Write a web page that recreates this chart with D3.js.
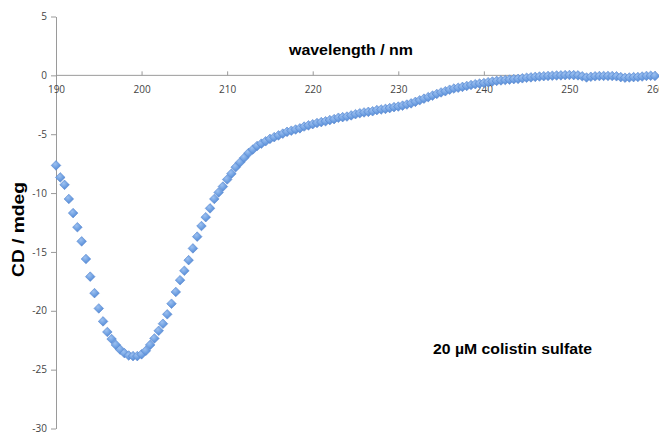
<!DOCTYPE html>
<html>
<head>
<meta charset="utf-8">
<script src="https://cdn.jsdelivr.net/npm/d3@7"></script>
<style>
  html, body { margin: 0; padding: 0; background: #fff; }
  svg { display: block; }
</style>
</head>
<body>
<svg id="chart" width="659" height="436"></svg>
<script>
// ---- data ----
const wavelengths = [
  190,190.5,191,191.5,192,192.5,193,193.5,194,194.5,195,195.5,196,196.5,197,197.5,198,198.5,199,199.5,
  200,200.5,201,201.5,202,202.5,203,203.5,204,204.5,205,205.5,206,206.5,207,207.5,208,208.5,209,209.5,
  210,210.5,211,211.5,212,212.5,213,213.5,214,214.5,215,215.5,216,216.5,217,217.5,218,218.5,219,219.5,
  220,220.5,221,221.5,222,222.5,223,223.5,224,224.5,225,225.5,226,226.5,227,227.5,228,228.5,229,229.5,
  230,230.5,231,231.5,232,232.5,233,233.5,234,234.5,235,235.5,236,236.5,237,237.5,238,238.5,239,239.5,
  240,240.5,241,241.5,242,242.5,243,243.5,244,244.5,245,245.5,246,246.5,247,247.5,248,248.5,249,249.5,
  250,250.5,251,251.5,252,252.5,253,253.5,254,254.5,255,255.5,256,256.5,257,257.5,258,258.5,259,259.5,
  260
];
const cdValues = [
  -7.65,-8.67,-9.3,-10.5,-11.7,-12.9,-14.1,-15.6,-17.1,-18.5,-19.8,-20.9,-21.8,-22.4,-22.9,-23.3,-23.6,-23.8,-23.85,-23.85,
  -23.7,-23.4,-22.9,-22.35,-21.7,-21.1,-20.3,-19.4,-18.4,-17.4,-16.6,-15.7,-14.7,-13.7,-12.8,-12.05,-11.3,-10.5,-9.95,-9.45,
  -8.85,-8.35,-7.8,-7.4,-7.0,-6.6,-6.3,-6.0,-5.8,-5.6,-5.4,-5.25,-5.1,-4.95,-4.8,-4.7,-4.6,-4.5,-4.35,-4.25,
  -4.15,-4.05,-3.97,-3.9,-3.8,-3.72,-3.6,-3.55,-3.5,-3.4,-3.3,-3.22,-3.15,-3.1,-3.05,-2.95,-2.9,-2.85,-2.78,-2.7,
  -2.65,-2.57,-2.48,-2.38,-2.25,-2.12,-1.98,-1.85,-1.72,-1.58,-1.45,-1.35,-1.22,-1.12,-1.05,-0.98,-0.9,-0.82,-0.75,-0.7,
  -0.65,-0.58,-0.52,-0.47,-0.43,-0.4,-0.36,-0.32,-0.3,-0.25,-0.2,-0.17,-0.13,-0.1,-0.07,-0.05,-0.03,-0.01,0.0,0.02,
  0.03,0.02,0.0,-0.08,-0.18,-0.12,-0.08,-0.06,-0.05,-0.05,-0.06,-0.08,-0.15,-0.2,-0.18,-0.15,-0.14,-0.1,-0.05,-0.03,
  -0.05
];
const xTicks = [190, 200, 210, 220, 230, 240, 250, 260];
const yTicks = [5, 0, -5, -10, -15, -20, -25, -30];
const xTitle = "wavelength / nm";
const yTitle = "CD / mdeg";
const annotation = "20 µM colistin sulfate";

// ---- drawing ----
const svg = d3.select("#chart");
const x = d3.scaleLinear().domain([190, 260]).range([56, 655]);
const y = d3.scaleLinear().domain([-30, 5]).range([428.5, 16.5]);

const defs = svg.append("defs");
const grad = defs.append("radialGradient").attr("id", "mk")
  .attr("cx", "40%").attr("cy", "35%").attr("r", "70%");
grad.append("stop").attr("offset", "0%").attr("stop-color", "#9cc0f0");
grad.append("stop").attr("offset", "60%").attr("stop-color", "#6b9de0");
grad.append("stop").attr("offset", "100%").attr("stop-color", "#4f83cf");

const axisColor = "#9a9a9a";
const tickFont = "'Open Sans', 'Liberation Sans', sans-serif";
const fmt = d => String(d);

// Y axis
const yAxis = d3.axisLeft(y).tickValues(yTicks).tickFormat(fmt).tickSize(5).tickSizeOuter(0).tickPadding(4);
const gy = svg.append("g").attr("transform", "translate(56,0)").call(yAxis);
gy.select(".domain").attr("stroke", axisColor);
gy.selectAll(".tick line").attr("stroke", axisColor);
gy.selectAll(".tick text").attr("fill", "#444").attr("font-size", 10).attr("font-family", tickFont);

// X axis at y = 0
const xAxis = d3.axisBottom(x).tickValues(xTicks).tickFormat(fmt).tickSize(-4).tickSizeOuter(0).tickPadding(11);
const gx = svg.append("g").attr("transform", `translate(0,${y(0)})`).call(xAxis);
gx.select(".domain").attr("d", `M${x(190)},0H659`).attr("stroke", axisColor);
gx.selectAll(".tick line").attr("stroke", axisColor);
gx.selectAll(".tick text").attr("fill", "#444").attr("font-size", 10).attr("font-family", tickFont);

// markers
const data = wavelengths.map((w, i) => ({ w, v: cdValues[i] }));
const r = 4.8;
const diamond = `M0,${-r}L${r},0L0,${r}L${-r},0Z`;
svg.append("g").selectAll("path").data(data).join("path")
  .attr("transform", d => `translate(${x(d.w)},${y(d.v)})`)
  .attr("d", diamond)
  .attr("fill", "url(#mk)")
  .attr("stroke", "#5a8ad2")
  .attr("stroke-width", 0.6);

// titles
const titleFont = "'Liberation Sans', Arial, Helvetica, sans-serif";
svg.append("text").attr("x", 351).attr("y", 55).attr("text-anchor", "middle")
  .attr("font-family", titleFont).attr("font-weight", "bold").attr("font-size", 15.5)
  .attr("textLength", 124).attr("lengthAdjust", "spacingAndGlyphs")
  .text(xTitle);

svg.append("text").attr("transform", "translate(24,229.5) rotate(-90)").attr("text-anchor", "middle")
  .attr("font-family", titleFont).attr("font-weight", "bold").attr("font-size", 16)
  .attr("textLength", 95).attr("lengthAdjust", "spacingAndGlyphs")
  .text(yTitle);

svg.append("text").attr("x", 433).attr("y", 353.5).attr("text-anchor", "start")
  .attr("font-family", titleFont).attr("font-weight", "bold").attr("font-size", 14.5)
  .attr("textLength", 159).attr("lengthAdjust", "spacingAndGlyphs")
  .text(annotation);
</script>
</body>
</html>
